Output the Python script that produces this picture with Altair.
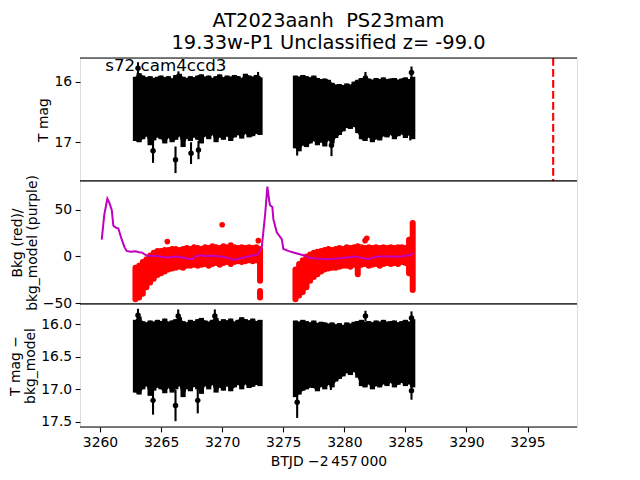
import altair as alt
import pandas as pd

# ---------------- data ----------------
seg1_t = [3262.9, 3263.2, 3263.5, 3263.8, 3264.1, 3264.4, 3264.7, 3265.0, 3265.3, 3265.6,
          3265.9, 3266.2, 3266.5, 3266.8, 3267.1, 3267.4, 3267.7, 3268.0, 3268.3, 3268.6,
          3268.9, 3269.2, 3269.5, 3269.8, 3270.1, 3270.4, 3270.7, 3271.0, 3271.3, 3271.6,
          3271.9, 3272.2, 3272.5, 3272.8, 3273.1]
seg2_t = [3276.0, 3276.3, 3276.6, 3276.9, 3277.2, 3277.5, 3277.8, 3278.1, 3278.4, 3278.7,
          3279.0, 3279.3, 3279.6, 3279.9, 3280.2, 3280.5, 3280.8, 3281.1, 3281.4, 3281.7,
          3282.0, 3282.3, 3282.6, 3282.9, 3283.2, 3283.5, 3283.8, 3284.1, 3284.4, 3284.7,
          3285.0, 3285.3, 3285.6]

# panel 1: T mag band (bright edge / faint edge)
tmag_lo_1 = [15.92, 15.86, 15.90, 15.93, 15.91, 15.94, 15.92, 15.90, 15.93, 15.91,
             15.95, 15.89, 15.87, 15.92, 15.94, 15.91, 15.93, 15.90, 15.88, 15.92,
             15.90, 15.94, 15.91, 15.88, 15.93, 15.90, 15.92, 15.89, 15.91, 15.94,
             15.87, 15.90, 15.92, 15.89, 15.93]
tmag_hi_1 = [16.98, 17.00, 16.95, 16.90, 17.05, 16.97, 16.92, 16.95, 17.02, 16.93,
             17.00, 16.96, 16.90, 17.08, 16.94, 16.98, 16.92, 16.96, 17.02, 16.90,
             16.95, 16.88, 17.00, 16.92, 16.96, 16.90, 16.98, 16.92, 16.88, 16.94,
             16.86, 16.92, 16.90, 16.86, 16.88]
tmag_lo_2 = [15.90, 15.92, 15.89, 15.91, 15.93, 15.90, 15.94, 15.96, 15.95, 15.97,
             16.02, 16.05, 16.04, 16.06, 16.03, 16.05, 16.00, 15.97, 15.94, 15.96,
             15.95, 15.97, 15.94, 15.96, 15.93, 15.96, 15.95, 15.94, 15.97, 15.95,
             15.93, 15.96, 15.92]
tmag_hi_2 = [17.10, 17.15, 17.05, 17.08, 17.02, 16.98, 17.05, 17.00, 17.07, 16.97,
             17.02, 16.93, 16.88, 16.82, 16.76, 16.78, 16.74, 16.85, 16.95, 16.98,
             16.92, 17.00, 16.95, 16.97, 16.90, 16.92, 16.88, 16.95, 16.90, 16.87,
             16.93, 16.88, 16.95]
tmag_out_t = [3263.11, 3264.34, 3266.18, 3266.42, 3267.45, 3268.06, 3272.94, 3276.14, 3278.95, 3281.73, 3285.5, 3285.4]
tmag_out_m = [15.78, 17.14, 17.29, 15.93, 17.18, 17.13, 15.94, 17.02, 17.05, 15.94, 15.85, 16.85]
tmag_out_e = [0.10, 0.20, 0.22, 0.10, 0.18, 0.15, 0.10, 0.20, 0.18, 0.10, 0.10, 0.12]

# panel 2: background (red) and background model (purple)
bkg_hi_1 = [-12, -10, -6, -3, 1, 4, 6, 6, 7, 7, 8, 8, 7, 8, 9, 8, 10, 9, 8, 10,
            9, 11, 10, 9, 11, 10, 12, 10, 9, 10, 9, 10, 9, 10, 8]
bkg_lo_1 = [-46, -44, -40, -33, -28, -24, -20, -18, -16, -14, -13, -12, -11, -12, -10, -10, -9, -10, -9, -8,
            -10, -8, -7, -9, -7, -6, -8, -6, -5, -6, -5, -4, -5, -4, -26]
bkg_hi_2 = [-14, -8, -4, 0, 2, 4, 5, 6, 7, 8, 7, 8, 9, 8, 10, 9, 10, 11, 10, 9,
            10, 9, 10, 9, 10, 9, 10, 9, 10, 10, 9, 18, 36]
bkg_lo_2 = [-46, -42, -38, -33, -26, -22, -19, -16, -14, -13, -12, -12, -11, -10, -10, -11, -9, -19, -9, -8,
            -10, -9, -8, -10, -8, -7, -8, -7, -8, -6, -7, -18, -36]
bkg_clump_t = [3273.1]
bkg_clump_lo = [-44]
bkg_clump_hi = [-37]
bkg_out_t = [3265.51, 3270.0, 3272.96, 3281.84, 3281.7]
bkg_out_v = [16, 34, 17, 19.5, 17]

model_t = [3260.14, 3260.35, 3260.60, 3260.75, 3260.96, 3261.09, 3261.3, 3261.50, 3261.78, 3262.0,
           3262.18, 3262.5, 3262.9, 3263.2, 3263.41, 3263.82, 3264.2, 3264.6, 3265.3, 3265.9,
           3266.4, 3267.0, 3267.5, 3268.0, 3268.6, 3269.2, 3269.9, 3270.5, 3271.0, 3271.5,
           3271.8, 3272.3, 3272.6, 3272.96, 3273.24, 3273.51, 3273.70, 3273.85, 3273.92, 3274.11,
           3274.19, 3274.47, 3274.88, 3275.01, 3275.4, 3275.83, 3276.2, 3276.65, 3277.06, 3277.5,
           3278.0, 3278.6, 3279.1, 3279.7, 3280.2, 3280.8, 3281.5, 3281.9, 3282.4, 3282.8,
           3283.3, 3283.9, 3284.5, 3284.8, 3285.3, 3285.66]
model_v = [18, 45, 62, 58, 50, 33, 31, 30, 18, 10,
           6, 5, 5.5, 4.5, 4.3, 1, 0.5, 0.8, -1, -0.5,
           0, -2, -3, 1.4, 0.5, 0.8, 0, -1.5, -3.6, -2,
           -1, 0.5, 1.4, 2.5, 10, 44, 75, 60, 55, 53,
           40, 26, 18.7, 8, 6, 4.3, 3, 1.4, -1, -2.2,
           -2.5, -3, -2.5, -2, -1, 0, -1.5, -3, -1, 0,
           0, 0, -0.4, 0.5, 1.4, 3.6]

# panel 3: T mag - bkg_model
corr_lo_1 = [15.93, 15.88, 15.95, 15.97, 15.94, 15.96, 15.93, 15.95, 15.91, 15.96,
             15.94, 15.92, 15.89, 15.95, 15.97, 15.93, 15.95, 15.92, 15.90, 15.94,
             15.96, 15.93, 15.90, 15.95, 15.92, 15.94, 15.91, 15.96, 15.93, 15.89,
             15.92, 15.94, 15.91, 15.95, 15.93]
corr_hi_1 = [17.05, 17.08, 17.00, 16.95, 17.10, 17.02, 16.97, 17.00, 17.06, 16.98,
             17.05, 17.00, 16.95, 17.12, 16.99, 17.03, 16.96, 17.00, 17.07, 16.95,
             17.00, 16.93, 17.05, 16.97, 17.02, 16.95, 17.03, 16.97, 16.93, 17.00,
             16.92, 16.98, 16.96, 16.93, 16.95]
corr_lo_2 = [15.94, 15.96, 15.93, 15.95, 15.97, 15.94, 15.98, 15.96, 15.97, 15.99,
             15.97, 16.00, 15.98, 16.01, 15.97, 15.99, 15.96, 15.95, 15.93, 15.96,
             15.95, 15.97, 15.94, 15.96, 15.93, 15.96, 15.95, 15.94, 15.97, 15.95,
             15.93, 15.96, 15.92]
corr_hi_2 = [17.12, 17.08, 17.02, 17.00, 16.97, 16.98, 17.03, 16.96, 17.00, 16.93,
             16.97, 16.88, 16.84, 16.80, 16.75, 16.78, 16.73, 16.82, 16.95, 16.97,
             16.92, 17.00, 16.95, 16.97, 16.92, 16.95, 16.90, 16.97, 16.93, 16.90,
             16.95, 16.92, 16.97]
corr_out_t = [3263.11, 3264.34, 3266.18, 3266.4, 3268.0, 3269.4, 3276.14, 3278.9, 3281.73, 3285.5, 3285.5]
corr_out_m = [15.86, 17.17, 17.25, 15.87, 17.17, 15.87, 17.20, 16.89, 15.87, 15.90, 17.02]
corr_out_e = [0.10, 0.22, 0.24, 0.10, 0.20, 0.10, 0.24, 0.12, 0.08, 0.10, 0.14]

event_t = [3297.1]
sector_label = ["s72 cam4ccd3"]
title_lines = ["AT2023aanh \u00a0PS23mam", "19.33w-P1 Unclassified z= -99.0"]
x_ticks = [3260, 3265, 3270, 3275, 3280, 3285, 3290, 3295]

# ---------------- frames ----------------
T = seg1_t + seg2_t
SEG = ["a"] * len(seg1_t) + ["b"] * len(seg2_t)
df_top = pd.DataFrame({"t": T, "seg": SEG, "lo": tmag_lo_1 + tmag_lo_2, "hi": tmag_hi_1 + tmag_hi_2})
df_top_out = pd.DataFrame({"t": tmag_out_t, "m": tmag_out_m,
                           "a": [m - e for m, e in zip(tmag_out_m, tmag_out_e)],
                           "b": [m + e for m, e in zip(tmag_out_m, tmag_out_e)]})
df_bkg = pd.DataFrame({"t": T, "seg": SEG, "lo": bkg_lo_1 + bkg_lo_2, "hi": bkg_hi_1 + bkg_hi_2})
df_bkg_clump = pd.DataFrame({"t": bkg_clump_t, "lo": bkg_clump_lo, "hi": bkg_clump_hi})
df_bkg_out = pd.DataFrame({"t": bkg_out_t, "v": bkg_out_v})
df_model = pd.DataFrame({"t": model_t, "v": model_v})
df_corr = pd.DataFrame({"t": T, "seg": SEG, "lo": corr_lo_1 + corr_lo_2, "hi": corr_hi_1 + corr_hi_2})
df_corr_out = pd.DataFrame({"t": corr_out_t, "m": corr_out_m,
                            "a": [m - e for m, e in zip(corr_out_m, corr_out_e)],
                            "b": [m + e for m, e in zip(corr_out_m, corr_out_e)]})

W, H = 497, 123
FS = 13.9
TICK = 4.86
xs = alt.Scale(domain=[3258.36, 3299.05], nice=False, zero=False)


def yaxis(values, fmt, title):
    return alt.Axis(values=values, format=fmt, title=title, tickSize=TICK, tickColor="black",
                    tickWidth=1.1, labelColor="black", labelFontSize=FS, titleFontSize=FS,
                    titleColor="black", titleFontWeight="normal", domain=False, grid=False,
                    labelPadding=3.5, titlePadding=3, titleLineHeight=15,
                    labelFont="DejaVu Sans", titleFont="DejaVu Sans")


ys1 = alt.Scale(domain=[15.61, 17.64], reverse=True, nice=False, zero=False)
ys2 = alt.Scale(domain=[-51, 81], nice=False, zero=False)
ys3 = alt.Scale(domain=[15.686, 17.58], reverse=True, nice=False, zero=False)

BAND_W = 5.2


def band(df, ys, color, axis, xaxis=None, width=BAND_W, cap="butt"):
    fill = alt.Chart(df).mark_area(color=color, opacity=1, interpolate="linear").encode(
        x=alt.X("t:Q", scale=xs, axis=xaxis),
        y=alt.Y("lo:Q", scale=ys, axis=axis),
        y2="hi:Q",
        detail="seg:N")
    rules = alt.Chart(df).mark_rule(color=color, strokeWidth=width, strokeCap=cap).encode(
        x=alt.X("t:Q", scale=xs), y=alt.Y("lo:Q", scale=ys), y2="hi:Q")
    return [fill, rules]


def frame_lines():
    top = alt.Chart(pd.DataFrame({"k": [0]})).mark_rule(color="black", strokeWidth=1.1).encode(
        x=alt.value(0), x2=alt.value(W), y=alt.value(0))
    bot = alt.Chart(pd.DataFrame({"k": [0]})).mark_rule(color="black", strokeWidth=1.1).encode(
        x=alt.value(0), x2=alt.value(W), y=alt.value(H))
    return [top, bot]


# panel 1
p1_err = alt.Chart(df_top_out).mark_rule(color="black", strokeWidth=2.1).encode(
    x=alt.X("t:Q", scale=xs), y=alt.Y("a:Q", scale=ys1), y2="b:Q")
p1_pts = alt.Chart(df_top_out).mark_circle(color="black", size=30, opacity=1).encode(
    x=alt.X("t:Q", scale=xs), y=alt.Y("m:Q", scale=ys1))
p1_evt = alt.Chart(pd.DataFrame({"t": event_t})).mark_rule(
    color="red", strokeDash=[7.7, 3.3], strokeWidth=2.1).encode(x=alt.X("t:Q", scale=xs))
p1_txt = alt.Chart(pd.DataFrame({"t": [3260.43], "m": [15.82], "s": sector_label})).mark_text(
    align="left", baseline="alphabetic", fontSize=16.7, font="DejaVu Sans", color="black").encode(
    x=alt.X("t:Q", scale=xs), y=alt.Y("m:Q", scale=ys1), text="s:N")
panel1 = alt.layer(*band(df_top, ys1, "black", yaxis([16, 17], "d", "T mag")),
                   p1_err, p1_pts, p1_evt, p1_txt, *frame_lines()).properties(
    width=W, height=H,
    title=alt.Title(title_lines, fontSize=19.4, fontWeight="normal", color="black",
                    font="DejaVu Sans", lineHeight=22, offset=4, anchor="middle", frame="group"))

# panel 2
p2_clump = alt.Chart(df_bkg_clump).mark_rule(color="#ff0000", strokeWidth=6, strokeCap="round").encode(
    x=alt.X("t:Q", scale=xs), y=alt.Y("lo:Q", scale=ys2), y2="hi:Q")
p2_out = alt.Chart(df_bkg_out).mark_circle(color="#ff0000", size=32, opacity=1).encode(
    x=alt.X("t:Q", scale=xs), y=alt.Y("v:Q", scale=ys2))
p2_model = alt.Chart(df_model).mark_line(color="#bf00bf", strokeWidth=2.0).encode(
    x=alt.X("t:Q", scale=xs), y=alt.Y("v:Q", scale=ys2))
panel2 = alt.layer(*band(df_bkg, ys2, "#ff0000",
                         yaxis([-50, 0, 50], "d", ["Bkg (red)/", "bkg_model (purple)"]),
                         width=6, cap="round"),
                   p2_clump, p2_out, p2_model, *frame_lines()).properties(width=W, height=H)

# panel 3
xaxis = alt.Axis(values=x_ticks, format="d", title="BTJD \u22122\u2009457\u2009000", tickSize=TICK,
                 tickColor="black", tickWidth=1.1, labelColor="black", labelFontSize=FS,
                 titleFontSize=FS, titleColor="black", titleFontWeight="normal", domain=False,
                 grid=False, labelPadding=4, titlePadding=5, labelFont="DejaVu Sans",
                 titleFont="DejaVu Sans")
p3_err = alt.Chart(df_corr_out).mark_rule(color="black", strokeWidth=2.1).encode(
    x=alt.X("t:Q", scale=xs), y=alt.Y("a:Q", scale=ys3), y2="b:Q")
p3_pts = alt.Chart(df_corr_out).mark_circle(color="black", size=30, opacity=1).encode(
    x=alt.X("t:Q", scale=xs), y=alt.Y("m:Q", scale=ys3))
panel3 = alt.layer(*band(df_corr, ys3, "black",
                         yaxis([16.0, 16.5, 17.0, 17.5], ".1f", ["T mag \u2212", "bkg_model"]),
                         xaxis=xaxis),
                   p3_err, p3_pts, *frame_lines()).properties(width=W, height=H)

chart = alt.vconcat(panel1, panel2, panel3, spacing=0, bounds="flush").properties(
    padding={"left": 0, "top": 2, "right": 5, "bottom": 5}
).configure_view(stroke="black", strokeWidth=1.1).configure(font="DejaVu Sans")

chart.save("out.html", embed_options={"renderer": "svg", "actions": False})
